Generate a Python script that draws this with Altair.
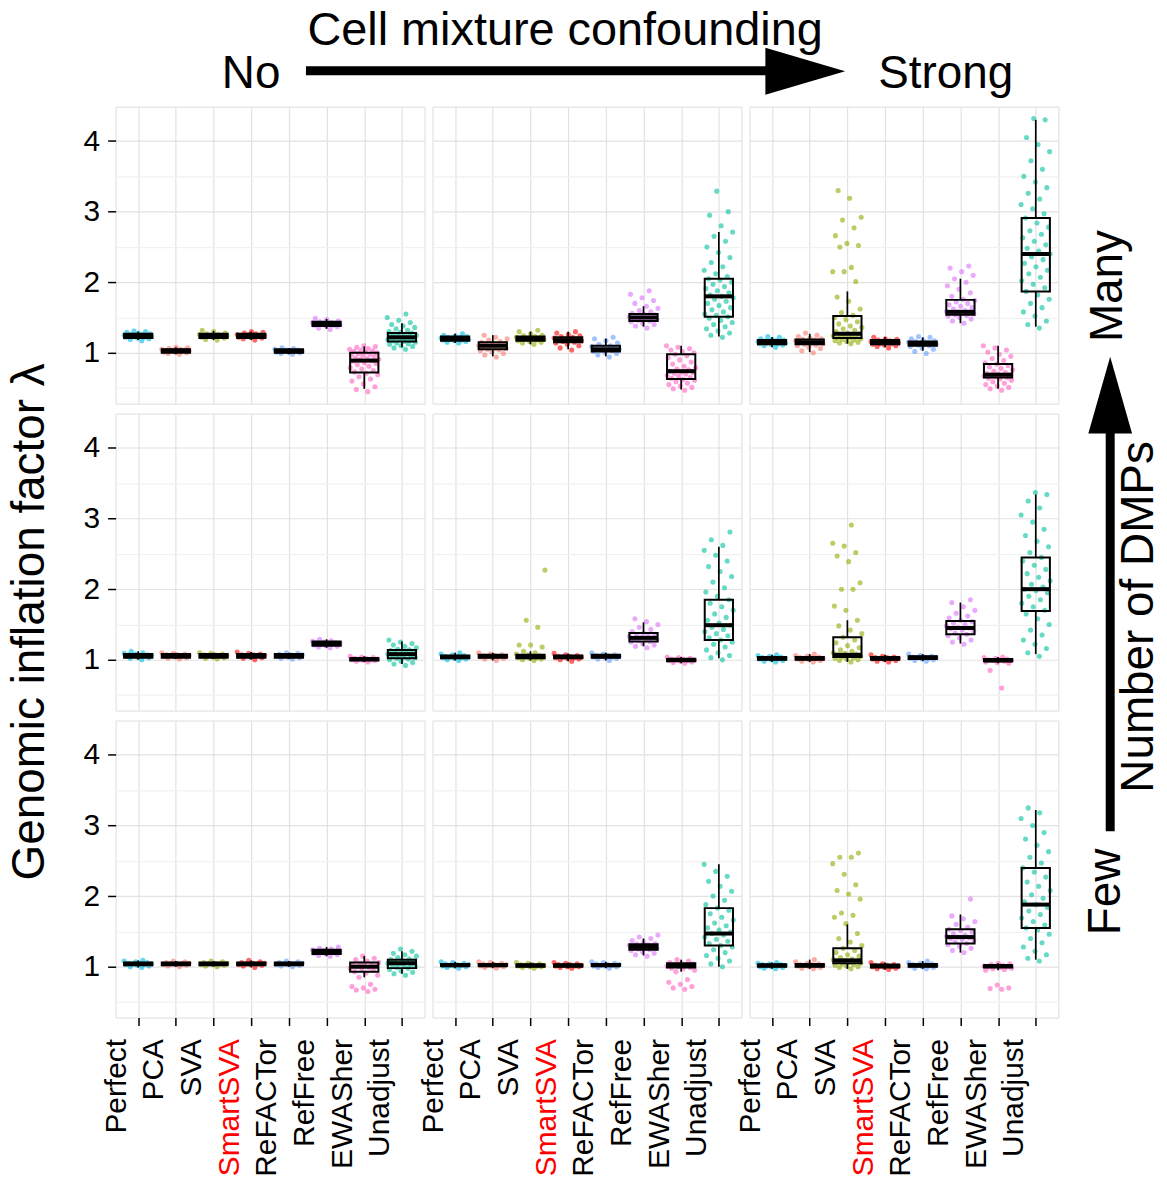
import altair as alt
import pandas as pd

METHODS = ["Perfect", "PCA", "SVA", "SmartSVA", "ReFACTor", "RefFree", "EWASher", "Unadjust"]
COLORS = ["#00B9E3", "#F8766D", "#93AA00", "#FF0000", "#619CFF", "#DB72FB", "#FF61C3", "#00C19F"]
DMP_LEVELS = ["Many", "Medium", "Few"]
CONF_LEVELS = ["No", "Moderate", "Strong"]
Y_GRID = [0.5, 1, 1.5, 2, 2.5, 3, 3.5, 4]

# box statistics per method: (lower whisker, Q1, median, Q3, upper whisker)
BOX_MANY_NO = [(1.18, 1.21, 1.24, 1.27, 1.30), (0.98, 1.00, 1.03, 1.05, 1.08), (1.18, 1.21, 1.24, 1.27, 1.31),
               (1.18, 1.21, 1.24, 1.27, 1.30), (0.98, 1.00, 1.02, 1.05, 1.07), (1.34, 1.38, 1.41, 1.44, 1.48),
               (0.49, 0.72, 0.89, 1.00, 1.09), (1.08, 1.16, 1.22, 1.28, 1.42)]
BOX_MANY_MOD = [(1.14, 1.17, 1.20, 1.23, 1.27), (0.95, 1.05, 1.10, 1.15, 1.25), (1.12, 1.17, 1.20, 1.23, 1.30),
                (1.05, 1.15, 1.18, 1.22, 1.30), (0.95, 1.02, 1.05, 1.10, 1.20), (1.37, 1.45, 1.50, 1.55, 1.66),
                (0.48, 0.63, 0.74, 0.98, 1.10), (1.23, 1.51, 1.80, 2.05, 2.71)]
BOX_MANY_STR = [(1.08, 1.12, 1.15, 1.18, 1.22), (1.01, 1.12, 1.15, 1.19, 1.27), (1.13, 1.21, 1.27, 1.52, 1.87),
                (1.08, 1.12, 1.15, 1.18, 1.22), (1.03, 1.10, 1.13, 1.16, 1.22), (1.42, 1.54, 1.58, 1.75, 2.05),
                (0.49, 0.65, 0.69, 0.84, 1.10), (1.37, 1.87, 2.40, 2.91, 4.30)]
BOX_MED_NO = [(1.00, 1.03, 1.06, 1.08, 1.12), (1.01, 1.03, 1.06, 1.08, 1.10), (1.01, 1.03, 1.06, 1.08, 1.10),
              (1.00, 1.03, 1.06, 1.08, 1.11), (1.01, 1.03, 1.06, 1.08, 1.10), (1.17, 1.20, 1.23, 1.26, 1.29),
              (0.97, 0.99, 1.01, 1.02, 1.05), (0.94, 1.02, 1.08, 1.14, 1.26)]
BOX_MED_MOD = [(0.99, 1.02, 1.04, 1.06, 1.10), (0.99, 1.03, 1.05, 1.07, 1.10), (0.99, 1.02, 1.04, 1.07, 1.12),
               (0.98, 1.02, 1.04, 1.06, 1.09), (0.99, 1.03, 1.05, 1.07, 1.10), (1.19, 1.26, 1.31, 1.38, 1.53),
               (0.95, 0.98, 1.00, 1.01, 1.04), (1.02, 1.28, 1.49, 1.85, 2.60)]
BOX_MED_STR = [(0.97, 1.00, 1.02, 1.04, 1.07), (0.97, 1.00, 1.02, 1.04, 1.08), (0.97, 1.04, 1.07, 1.32, 1.56),
               (0.97, 1.00, 1.02, 1.04, 1.07), (0.98, 1.01, 1.03, 1.05, 1.08), (1.23, 1.36, 1.45, 1.55, 1.81),
               (0.95, 0.98, 0.99, 1.01, 1.04), (1.08, 1.69, 2.00, 2.45, 3.34)]
BOX_FEW_NO = [(0.99, 1.02, 1.04, 1.06, 1.09), (1.00, 1.02, 1.04, 1.06, 1.08), (1.00, 1.02, 1.04, 1.06, 1.08),
              (0.99, 1.02, 1.04, 1.06, 1.09), (1.00, 1.02, 1.04, 1.06, 1.08), (1.15, 1.18, 1.21, 1.24, 1.28),
              (0.85, 0.93, 1.00, 1.06, 1.15), (0.90, 0.98, 1.05, 1.10, 1.22)]
BOX_FEW_MOD = [(0.98, 1.01, 1.02, 1.04, 1.07), (0.98, 1.01, 1.02, 1.04, 1.07), (0.98, 1.00, 1.02, 1.03, 1.06),
               (0.98, 1.00, 1.02, 1.03, 1.06), (0.98, 1.01, 1.02, 1.04, 1.07), (1.16, 1.24, 1.28, 1.32, 1.40),
               (0.93, 0.99, 1.02, 1.05, 1.10), (1.00, 1.30, 1.47, 1.83, 2.45)]
BOX_FEW_STR = [(0.97, 1.00, 1.02, 1.03, 1.06), (0.97, 1.00, 1.02, 1.04, 1.10), (0.97, 1.05, 1.09, 1.26, 1.60),
               (0.96, 0.99, 1.01, 1.03, 1.06), (0.97, 1.00, 1.02, 1.04, 1.08), (1.20, 1.33, 1.42, 1.53, 1.74),
               (0.95, 0.99, 1.01, 1.02, 1.05), (1.10, 1.55, 1.88, 2.40, 3.22)]

# individual genomic inflation factors per method
PTS_MANY_NO = [
    [1.17, 1.19, 1.20, 1.21, 1.22, 1.22, 1.23, 1.23, 1.24, 1.24, 1.24, 1.25, 1.25, 1.26, 1.26, 1.27, 1.28, 1.29, 1.30, 1.31],
    [0.98, 0.99, 1.00, 1.01, 1.01, 1.02, 1.02, 1.03, 1.03, 1.03, 1.04, 1.04, 1.05, 1.05, 1.06, 1.07, 1.08],
    [1.18, 1.19, 1.21, 1.22, 1.22, 1.23, 1.23, 1.24, 1.24, 1.24, 1.25, 1.25, 1.26, 1.26, 1.27, 1.28, 1.30, 1.32],
    [1.18, 1.20, 1.21, 1.22, 1.22, 1.23, 1.23, 1.24, 1.24, 1.25, 1.25, 1.26, 1.26, 1.27, 1.28, 1.29, 1.30],
    [0.98, 0.99, 1.00, 1.01, 1.01, 1.02, 1.02, 1.02, 1.03, 1.03, 1.04, 1.04, 1.05, 1.06, 1.07],
    [1.33, 1.35, 1.37, 1.38, 1.39, 1.39, 1.40, 1.40, 1.41, 1.41, 1.42, 1.42, 1.43, 1.43, 1.44, 1.45, 1.47, 1.49],
    [0.45, 0.48, 0.52, 0.56, 0.60, 0.63, 0.66, 0.69, 0.71, 0.73, 0.75, 0.77, 0.79, 0.81, 0.83, 0.85, 0.86, 0.88, 0.89,
     0.90, 0.91, 0.92, 0.93, 0.95, 0.96, 0.97, 0.98, 0.99, 1.00, 1.01, 1.02, 1.03, 1.04, 1.05, 1.06, 1.08, 1.09, 1.10],
    [1.05, 1.07, 1.09, 1.10, 1.12, 1.13, 1.14, 1.15, 1.16, 1.17, 1.18, 1.19, 1.19, 1.20, 1.21, 1.21, 1.22, 1.23, 1.23,
     1.24, 1.25, 1.26, 1.27, 1.28, 1.29, 1.30, 1.32, 1.34, 1.36, 1.38, 1.40, 1.43, 1.46, 1.50, 1.55],
]
PTS_MANY_MOD = [
    [1.14, 1.15, 1.16, 1.17, 1.18, 1.18, 1.19, 1.19, 1.20, 1.20, 1.20, 1.21, 1.21, 1.22, 1.22, 1.23, 1.24, 1.25, 1.27],
    [0.94, 0.97, 0.99, 1.01, 1.03, 1.04, 1.05, 1.06, 1.07, 1.08, 1.09, 1.10, 1.10, 1.11, 1.12, 1.13, 1.14, 1.15, 1.16,
     1.18, 1.20, 1.22, 1.25],
    [1.12, 1.14, 1.15, 1.16, 1.17, 1.18, 1.19, 1.19, 1.20, 1.20, 1.21, 1.21, 1.22, 1.23, 1.24, 1.25, 1.27, 1.30, 1.32],
    [1.04, 1.07, 1.10, 1.12, 1.14, 1.15, 1.16, 1.17, 1.18, 1.18, 1.19, 1.20, 1.21, 1.22, 1.23, 1.24, 1.26, 1.28, 1.30],
    [0.94, 0.97, 0.99, 1.00, 1.02, 1.03, 1.04, 1.05, 1.05, 1.06, 1.07, 1.08, 1.09, 1.10, 1.12, 1.14, 1.17, 1.20, 1.22],
    [1.35, 1.38, 1.40, 1.42, 1.44, 1.45, 1.46, 1.47, 1.48, 1.49, 1.50, 1.50, 1.51, 1.52, 1.53, 1.54, 1.55, 1.56, 1.58,
     1.60, 1.63, 1.66, 1.70, 1.74, 1.78, 1.83, 1.88],
    [0.47, 0.49, 0.51, 0.53, 0.55, 0.57, 0.59, 0.61, 0.62, 0.64, 0.65, 0.67, 0.68, 0.70, 0.71, 0.72, 0.73, 0.74, 0.76,
     0.77, 0.79, 0.81, 0.84, 0.87, 0.90, 0.93, 0.96, 0.98, 1.00, 1.02, 1.04, 1.06, 1.08, 1.10],
    [1.22, 1.25, 1.28, 1.31, 1.34, 1.37, 1.40, 1.43, 1.46, 1.49, 1.51, 1.53, 1.55, 1.58, 1.61, 1.64, 1.67, 1.70, 1.73,
     1.76, 1.78, 1.80, 1.82, 1.85, 1.88, 1.91, 1.94, 1.97, 2.00, 2.03, 2.05, 2.08, 2.12, 2.17, 2.22, 2.28, 2.35, 2.42,
     2.50, 2.58, 2.65, 2.71, 2.80, 2.95, 3.00, 3.29],
]
PTS_MANY_STR = [
    [1.08, 1.10, 1.11, 1.12, 1.13, 1.13, 1.14, 1.14, 1.15, 1.15, 1.15, 1.16, 1.16, 1.17, 1.17, 1.18, 1.19, 1.20, 1.22, 1.23],
    [1.00, 1.03, 1.06, 1.08, 1.10, 1.11, 1.12, 1.13, 1.14, 1.15, 1.15, 1.16, 1.17, 1.18, 1.19, 1.20, 1.21, 1.23, 1.25, 1.28],
    [1.13, 1.14, 1.15, 1.16, 1.17, 1.18, 1.19, 1.20, 1.21, 1.21, 1.22, 1.23, 1.24, 1.25, 1.26, 1.27, 1.28, 1.30, 1.32,
     1.34, 1.36, 1.38, 1.41, 1.44, 1.47, 1.50, 1.53, 1.57, 1.62, 1.73, 1.79, 2.01, 2.15, 2.15, 2.21, 2.50, 2.52, 2.55,
     2.66, 2.77, 2.88, 2.92, 3.19, 3.30],
    [1.07, 1.09, 1.10, 1.11, 1.12, 1.13, 1.13, 1.14, 1.14, 1.15, 1.15, 1.16, 1.16, 1.17, 1.18, 1.19, 1.20, 1.22],
    [0.99, 1.02, 1.05, 1.07, 1.09, 1.10, 1.11, 1.12, 1.12, 1.13, 1.13, 1.14, 1.15, 1.15, 1.16, 1.17, 1.18, 1.20, 1.22, 1.23],
    [1.42, 1.45, 1.48, 1.50, 1.52, 1.53, 1.54, 1.55, 1.56, 1.57, 1.58, 1.58, 1.59, 1.60, 1.62, 1.64, 1.66, 1.68, 1.70,
     1.72, 1.74, 1.76, 1.80, 1.85, 1.90, 1.95, 2.00, 2.05, 2.10, 2.15, 2.20, 2.23],
    [0.47, 0.49, 0.51, 0.53, 0.55, 0.57, 0.59, 0.61, 0.63, 0.64, 0.65, 0.66, 0.67, 0.68, 0.69, 0.69, 0.70, 0.71, 0.72,
     0.74, 0.76, 0.78, 0.80, 0.82, 0.84, 0.86, 0.89, 0.92, 0.95, 0.98, 1.01, 1.04, 1.07, 1.10],
    [1.35, 1.40, 1.45, 1.52, 1.58, 1.64, 1.70, 1.76, 1.82, 1.87, 1.92, 1.97, 2.02, 2.07, 2.12, 2.17, 2.22, 2.27, 2.32,
     2.36, 2.40, 2.44, 2.48, 2.53, 2.58, 2.63, 2.68, 2.73, 2.78, 2.84, 2.91, 2.97, 3.04, 3.10, 3.18, 3.26, 3.34, 3.42,
     3.50, 3.60, 3.72, 3.85, 3.95, 4.05, 4.30, 4.32],
]
PTS_MED_NO = [
    [1.00, 1.02, 1.03, 1.04, 1.05, 1.05, 1.06, 1.06, 1.06, 1.07, 1.07, 1.08, 1.09, 1.10, 1.12],
    [1.01, 1.02, 1.03, 1.04, 1.05, 1.05, 1.06, 1.06, 1.07, 1.07, 1.08, 1.09, 1.10],
    [1.01, 1.02, 1.03, 1.04, 1.05, 1.05, 1.06, 1.06, 1.07, 1.07, 1.08, 1.09, 1.10],
    [1.00, 1.02, 1.03, 1.04, 1.05, 1.06, 1.06, 1.06, 1.07, 1.07, 1.08, 1.09, 1.11],
    [1.01, 1.02, 1.03, 1.04, 1.05, 1.06, 1.06, 1.07, 1.07, 1.08, 1.09, 1.10],
    [1.17, 1.18, 1.19, 1.20, 1.21, 1.22, 1.22, 1.23, 1.23, 1.24, 1.24, 1.25, 1.26, 1.27, 1.29],
    [0.97, 0.98, 0.99, 0.99, 1.00, 1.00, 1.01, 1.01, 1.02, 1.02, 1.03, 1.04, 1.05],
    [0.92, 0.94, 0.96, 0.98, 1.00, 1.01, 1.02, 1.03, 1.04, 1.05, 1.06, 1.07, 1.08, 1.09, 1.10, 1.11, 1.12, 1.13, 1.14,
     1.15, 1.17, 1.19, 1.21, 1.23, 1.25, 1.28],
]
PTS_MED_MOD = [
    [0.99, 1.00, 1.01, 1.02, 1.03, 1.03, 1.04, 1.04, 1.05, 1.05, 1.06, 1.07, 1.08, 1.10],
    [0.99, 1.01, 1.02, 1.03, 1.04, 1.04, 1.05, 1.05, 1.06, 1.06, 1.07, 1.08, 1.10],
    [0.99, 1.00, 1.01, 1.02, 1.03, 1.03, 1.04, 1.04, 1.05, 1.05, 1.06, 1.07, 1.08, 1.10, 1.12, 1.18, 1.21, 1.21, 1.46,
     1.56, 2.27],
    [0.98, 1.00, 1.01, 1.02, 1.03, 1.03, 1.04, 1.04, 1.05, 1.05, 1.06, 1.07, 1.09],
    [0.99, 1.01, 1.02, 1.03, 1.04, 1.04, 1.05, 1.05, 1.06, 1.06, 1.07, 1.08, 1.10],
    [1.17, 1.19, 1.21, 1.23, 1.25, 1.26, 1.27, 1.28, 1.29, 1.30, 1.31, 1.32, 1.33, 1.34, 1.35, 1.36, 1.38, 1.40, 1.43,
     1.46, 1.50, 1.54, 1.58],
    [0.95, 0.96, 0.97, 0.98, 0.99, 0.99, 1.00, 1.00, 1.01, 1.01, 1.02, 1.03, 1.04],
    [1.00, 1.03, 1.06, 1.10, 1.14, 1.18, 1.22, 1.25, 1.28, 1.31, 1.34, 1.37, 1.40, 1.43, 1.46, 1.49, 1.52, 1.56, 1.60,
     1.65, 1.70, 1.75, 1.80, 1.85, 1.90, 1.96, 2.02, 2.10, 2.18, 2.25, 2.32, 2.40, 2.48, 2.55, 2.62, 2.70, 2.81],
]
PTS_MED_STR = [
    [0.97, 0.98, 0.99, 1.00, 1.01, 1.01, 1.02, 1.02, 1.03, 1.03, 1.04, 1.05, 1.06, 1.07],
    [0.97, 0.98, 0.99, 1.00, 1.01, 1.01, 1.02, 1.02, 1.03, 1.03, 1.04, 1.05, 1.06, 1.08],
    [0.97, 0.99, 1.00, 1.01, 1.02, 1.03, 1.04, 1.05, 1.06, 1.07, 1.08, 1.09, 1.10, 1.12, 1.14, 1.17, 1.20, 1.24, 1.28,
     1.32, 1.37, 1.42, 1.48, 1.56, 1.70, 1.76, 2.00, 2.00, 2.09, 2.39, 2.47, 2.52, 2.61, 2.65, 2.91],
    [0.97, 0.98, 0.99, 1.00, 1.01, 1.01, 1.02, 1.02, 1.03, 1.03, 1.04, 1.05, 1.07],
    [0.98, 0.99, 1.00, 1.01, 1.02, 1.02, 1.03, 1.03, 1.04, 1.04, 1.05, 1.06, 1.08],
    [1.22, 1.25, 1.28, 1.31, 1.34, 1.36, 1.38, 1.40, 1.42, 1.44, 1.45, 1.46, 1.48, 1.50, 1.52, 1.54, 1.56, 1.59, 1.62,
     1.66, 1.70, 1.75, 1.81, 1.85],
    [0.60, 0.85, 0.95, 0.96, 0.97, 0.98, 0.99, 0.99, 1.00, 1.00, 1.01, 1.02, 1.03, 1.04],
    [1.05, 1.10, 1.16, 1.22, 1.28, 1.35, 1.42, 1.50, 1.58, 1.65, 1.70, 1.75, 1.80, 1.85, 1.90, 1.95, 1.98, 2.00, 2.03,
     2.07, 2.12, 2.17, 2.22, 2.28, 2.34, 2.40, 2.45, 2.52, 2.60, 2.68, 2.76, 2.85, 2.95, 3.05, 3.15, 3.25, 3.34, 3.37],
]
PTS_FEW_NO = [
    [0.99, 1.00, 1.01, 1.02, 1.03, 1.03, 1.04, 1.04, 1.05, 1.05, 1.06, 1.07, 1.08, 1.09],
    [1.00, 1.01, 1.02, 1.03, 1.03, 1.04, 1.04, 1.05, 1.05, 1.06, 1.07, 1.08],
    [1.00, 1.01, 1.02, 1.03, 1.03, 1.04, 1.04, 1.05, 1.05, 1.06, 1.07, 1.08],
    [0.99, 1.01, 1.02, 1.03, 1.03, 1.04, 1.04, 1.05, 1.05, 1.06, 1.07, 1.09],
    [1.00, 1.01, 1.02, 1.03, 1.03, 1.04, 1.04, 1.05, 1.05, 1.06, 1.07, 1.08],
    [1.15, 1.16, 1.17, 1.18, 1.19, 1.20, 1.20, 1.21, 1.21, 1.22, 1.22, 1.23, 1.24, 1.25, 1.26, 1.28],
    [0.65, 0.67, 0.68, 0.70, 0.72, 0.75, 0.85, 0.88, 0.91, 0.93, 0.95, 0.97, 0.98, 0.99, 1.00, 1.01, 1.02, 1.03, 1.04,
     1.05, 1.06, 1.08, 1.10, 1.12, 1.15],
    [0.88, 0.90, 0.92, 0.94, 0.96, 0.98, 0.99, 1.00, 1.01, 1.02, 1.03, 1.04, 1.05, 1.06, 1.07, 1.08, 1.09, 1.10, 1.11,
     1.13, 1.15, 1.17, 1.19, 1.22, 1.25],
]
PTS_FEW_MOD = [
    [0.98, 0.99, 1.00, 1.01, 1.01, 1.02, 1.02, 1.03, 1.03, 1.04, 1.05, 1.06, 1.07],
    [0.98, 0.99, 1.00, 1.01, 1.01, 1.02, 1.02, 1.03, 1.03, 1.04, 1.05, 1.06, 1.07],
    [0.98, 0.99, 1.00, 1.00, 1.01, 1.01, 1.02, 1.02, 1.03, 1.03, 1.04, 1.05, 1.06],
    [0.98, 0.99, 1.00, 1.00, 1.01, 1.01, 1.02, 1.02, 1.03, 1.03, 1.04, 1.05, 1.06],
    [0.98, 0.99, 1.00, 1.01, 1.01, 1.02, 1.02, 1.03, 1.03, 1.04, 1.05, 1.06, 1.07],
    [1.15, 1.17, 1.19, 1.21, 1.23, 1.24, 1.25, 1.26, 1.27, 1.28, 1.28, 1.29, 1.30, 1.31, 1.32, 1.33, 1.35, 1.37, 1.40,
     1.42, 1.45],
    [0.68, 0.70, 0.72, 0.75, 0.78, 0.82, 0.93, 0.95, 0.97, 0.98, 0.99, 1.00, 1.01, 1.02, 1.03, 1.04, 1.05, 1.06, 1.08, 1.10],
    [1.00, 1.04, 1.08, 1.12, 1.16, 1.20, 1.24, 1.28, 1.30, 1.33, 1.36, 1.39, 1.42, 1.45, 1.47, 1.49, 1.52, 1.55, 1.58,
     1.62, 1.66, 1.70, 1.75, 1.80, 1.83, 1.88, 1.94, 2.00, 2.07, 2.14, 2.21, 2.28, 2.35, 2.45],
]
PTS_FEW_STR = [
    [0.97, 0.98, 0.99, 1.00, 1.00, 1.01, 1.01, 1.02, 1.02, 1.03, 1.03, 1.04, 1.05, 1.06],
    [0.97, 0.98, 0.99, 1.00, 1.01, 1.01, 1.02, 1.02, 1.03, 1.03, 1.04, 1.05, 1.07, 1.10],
    [0.97, 0.99, 1.00, 1.01, 1.02, 1.03, 1.04, 1.05, 1.06, 1.07, 1.08, 1.09, 1.10, 1.11, 1.13, 1.15, 1.17, 1.20, 1.23,
     1.26, 1.30, 1.35, 1.40, 1.47, 1.61, 1.70, 1.73, 1.76, 1.96, 2.03, 2.08, 2.16, 2.31, 2.46, 2.55, 2.55, 2.61],
    [0.96, 0.97, 0.98, 0.99, 1.00, 1.00, 1.01, 1.01, 1.02, 1.02, 1.03, 1.04, 1.06],
    [0.97, 0.98, 0.99, 1.00, 1.01, 1.01, 1.02, 1.02, 1.03, 1.03, 1.04, 1.05, 1.06, 1.08],
    [1.20, 1.23, 1.26, 1.29, 1.31, 1.33, 1.35, 1.37, 1.39, 1.40, 1.41, 1.42, 1.43, 1.45, 1.47, 1.49, 1.51, 1.53, 1.56,
     1.60, 1.64, 1.68, 1.72, 1.96],
    [0.68, 0.69, 0.70, 0.74, 0.95, 0.96, 0.97, 0.98, 0.99, 1.00, 1.00, 1.01, 1.01, 1.02, 1.03, 1.04, 1.05],
    [1.08, 1.12, 1.17, 1.22, 1.28, 1.34, 1.40, 1.46, 1.52, 1.55, 1.59, 1.64, 1.69, 1.74, 1.79, 1.84, 1.88, 1.92, 1.97,
     2.02, 2.08, 2.14, 2.20, 2.27, 2.34, 2.40, 2.47, 2.55, 2.63, 2.72, 2.81, 2.90, 3.00, 3.10, 3.18, 3.25],
]

BOXES = [[BOX_MANY_NO, BOX_MANY_MOD, BOX_MANY_STR],
         [BOX_MED_NO, BOX_MED_MOD, BOX_MED_STR],
         [BOX_FEW_NO, BOX_FEW_MOD, BOX_FEW_STR]]
POINTS = [[PTS_MANY_NO, PTS_MANY_MOD, PTS_MANY_STR],
          [PTS_MED_NO, PTS_MED_MOD, PTS_MED_STR],
          [PTS_FEW_NO, PTS_FEW_MOD, PTS_FEW_STR]]

# ---------------------------------------------------------------- tables
pt_rows, box_rows = [], []
for r, dmp in enumerate(DMP_LEVELS):
    for c, conf in enumerate(CONF_LEVELS):
        for m, meth in enumerate(METHODS):
            lo, q1, med, q3, hi = BOXES[r][c][m]
            box_rows.append(dict(dmp=dmp, conf=conf, method=meth, mi=m + 1,
                                 lo=lo, q1=q1, med=med, q3=q3, hi=hi))
            for k, v in enumerate(POINTS[r][c][m]):
                pt_rows.append(dict(dmp=dmp, conf=conf, method=meth, mi=m + 1, k=k + 1, value=v))
points_df = pd.DataFrame(pt_rows)
box_df = pd.DataFrame(box_rows)

FONT = "Liberation Sans"
PW, PH = 310, 298
GRID_MAJOR = "#E2E2E2"
GRID_MINOR = "#F1F1F1"
X_SCALE = alt.Scale(domain=[0.4, 8.6], nice=False, zero=False)
Y_SCALE = alt.Scale(domain=[0.28, 4.487], nice=False, zero=False)
COLOR = alt.Color("method:N", scale=alt.Scale(domain=METHODS, range=COLORS), legend=None)
LABEL_EXPR = "[" + ",".join("'%s'" % m for m in METHODS) + "][datum.value - 1]"
SMART_IDX = METHODS.index("SmartSVA") + 1
Y_GRID_COLOR = {"condition": {"test": "datum.value % 1 != 0", "value": GRID_MINOR}, "value": GRID_MAJOR}
Y_TICK_COLOR = {"condition": {"test": "datum.value % 1 != 0", "value": "transparent"}, "value": "black"}


def axes_for(r, c):
    if r == 2:
        xaxis = alt.Axis(values=list(range(1, 9)), labelExpr=LABEL_EXPR, labelAngle=-90,
                         labelFontSize=30, labelFont=FONT,
                         labelColor={"condition": {"test": "datum.value == %d" % SMART_IDX, "value": "#FF0000"},
                                     "value": "black"},
                         tickSize=8, tickColor="black", tickWidth=1.5, labelPadding=13, labelOffset=-22,
                         domain=False, grid=True, gridColor=GRID_MAJOR, gridWidth=1.2, title=None,
                         labelOverlap=False, labelFlush=False)
    else:
        xaxis = alt.Axis(values=list(range(1, 9)), labels=False, ticks=False, domain=False,
                         grid=True, gridColor=GRID_MAJOR, gridWidth=1.2, title=None)
    if c == 0:
        yaxis = alt.Axis(values=Y_GRID, labelExpr="datum.value % 1 == 0 ? format(datum.value, 'd') : ''",
                         labelFontSize=30, labelFont=FONT, labelColor="black",
                         tickSize=8, tickColor=Y_TICK_COLOR, tickWidth=1.5, labelPadding=8,
                         domain=False, grid=True, gridColor=Y_GRID_COLOR, gridWidth=1.2, title=None,
                         labelOverlap=False, labelFlush=False)
    else:
        yaxis = alt.Axis(values=Y_GRID, labels=False, ticks=False, domain=False,
                         grid=True, gridColor=Y_GRID_COLOR, gridWidth=1.2, title=None)
    return xaxis, yaxis


def panel(r, c):
    dmp, conf = DMP_LEVELS[r], CONF_LEVELS[c]
    pts = points_df[(points_df.dmp == dmp) & (points_df.conf == conf)]
    bx = box_df[(box_df.dmp == dmp) & (box_df.conf == conf)]
    xaxis, yaxis = axes_for(r, c)

    def X(f):
        return alt.X(f, scale=X_SCALE, axis=xaxis)

    def Y(f):
        return alt.Y(f, scale=Y_SCALE, axis=yaxis)

    dots = alt.Chart(pts).transform_calculate(
        xj="datum.mi + ((datum.k * 0.618034) % 1 - 0.5) * 0.8"
    ).mark_circle(size=26, opacity=0.6).encode(x=X("xj:Q"), y=Y("value:Q"), color=COLOR)
    bbase = alt.Chart(bx).transform_calculate(xa="datum.mi - 0.375", xb="datum.mi + 0.375")
    w_lo = bbase.mark_rule(color="black", strokeWidth=1.7).encode(x=X("mi:Q"), y=Y("lo:Q"), y2="q1:Q")
    w_hi = bbase.mark_rule(color="black", strokeWidth=1.7).encode(x=X("mi:Q"), y=Y("q3:Q"), y2="hi:Q")
    box = bbase.mark_rect(stroke="black", strokeWidth=2, fillOpacity=0).encode(
        x=X("xa:Q"), x2="xb:Q", y=Y("q1:Q"), y2="q3:Q")
    med = bbase.mark_rule(color="black", strokeWidth=4).encode(x=X("xa:Q"), x2="xb:Q", y=Y("med:Q"))
    return alt.layer(dots, w_lo, w_hi, box, med).properties(width=PW, height=PH)


# panels of a row are spaced by their plot areas (flush) so shifted tick labels do not push them apart
rows = [alt.hconcat(*[panel(r, c) for c in range(3)], spacing=8, bounds="flush") for r in range(3)]
grid = alt.vconcat(*rows, spacing=8)

ONE = alt.Data(values=[{"a": 1}])
NOVIEW = alt.ViewBackground(strokeOpacity=0)
ARROW_RIGHT = "M -1 -0.59 L 1 0 L -1 0.59 Z"
ARROW_UP = "M -0.57 1 L 0 -1 L 0.57 1 Z"


def txt(s, x, y, angle=0, baseline="alphabetic", size=46):
    return alt.Chart(ONE).mark_text(font=FONT, fontSize=size, color="black", angle=angle,
                                    align="center", baseline=baseline).encode(
        x=alt.value(x), y=alt.value(y), text=alt.value(s))


# top annotation
top_ann = alt.layer(
    txt("Cell mixture confounding", 562, 37, size=47),
    txt("No", 247, 80),
    txt("Strong", 944, 80),
    alt.Chart(ONE).mark_rule(color="black", strokeWidth=9).encode(
        x=alt.value(302), x2=alt.value(768), y=alt.value(63)),
    alt.Chart(ONE).mark_point(shape=ARROW_RIGHT, filled=True, color="black", opacity=1,
                              size=6400, strokeWidth=0).encode(x=alt.value(803), y=alt.value(63.5)),
).properties(width=1150, height=97, view=NOVIEW)

# left annotation
left_ann = alt.layer(
    txt("Genomic inflation factor \u03bb", 25, 517, angle=270, baseline="middle"),
).properties(width=68, height=909, view=NOVIEW)

# right annotation
right_ann = alt.layer(
    txt("Many", 40, 180, angle=270, baseline="middle"),
    alt.Chart(ONE).mark_point(shape=ARROW_UP, filled=True, color="black", opacity=1,
                              size=5929, strokeWidth=0).encode(x=alt.value(42), y=alt.value(289.5)),
    alt.Chart(ONE).mark_rule(color="black", strokeWidth=9).encode(
        x=alt.value(42), y=alt.value(323), y2=alt.value(727)),
    txt("Number of DMPs", 71, 512, angle=270, baseline="middle"),
    txt("Few", 38, 788, angle=270, baseline="middle"),
).properties(width=92, height=909, view=NOVIEW)

body = alt.hconcat(left_ann, grid, right_ann, spacing=9)
chart = alt.vconcat(top_ann, body, spacing=1).configure_view(
    stroke="#808080", strokeWidth=1.2
).configure(background="white")

chart.save("out.html", embed_options={"renderer": "svg", "actions": False})
